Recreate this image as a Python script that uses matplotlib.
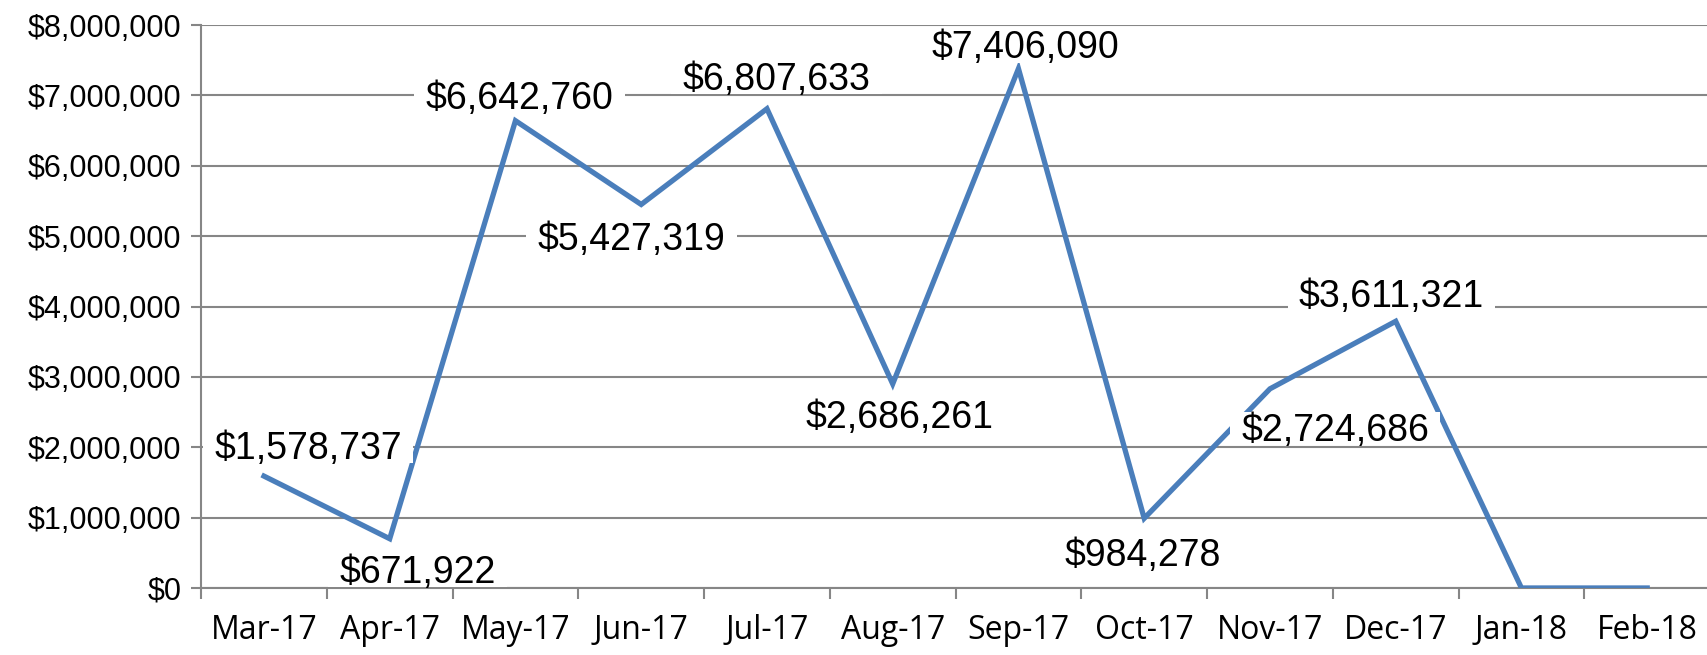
import matplotlib
matplotlib.use("Agg")
import matplotlib.pyplot as plt
from matplotlib.path import Path
from matplotlib.ticker import FuncFormatter

# --- data ---
months = ["Mar-17", "Apr-17", "May-17", "Jun-17", "Jul-17", "Aug-17",
          "Sep-17", "Oct-17", "Nov-17", "Dec-17", "Jan-18", "Feb-18"]
revenue = [1.59e6, 0.70e6, 6.64e6, 5.45e6, 6.81e6, 2.90e6,
           7.38e6, 0.99e6, 2.83e6, 3.79e6, 0.0, 0.0]
label_text = ["$1,578,737", "$671,922", "$6,642,760", "$5,427,319", "$6,807,633",
              "$2,686,261", "$7,406,090", "$984,278", "$2,724,686", "$3,611,321",
              None, None]
y_ticks = [0, 1e6, 2e6, 3e6, 4e6, 5e6, 6e6, 7e6, 8e6]

# label placement (offset from point, in points)
label_offsets = [(32, 22), (20, -22), (3, 18), (-7, -23), (7, 23),
                 (5, -22), (5, 17), (-1, -25), (47, -28), (-3, 20), None, None]

LINE = "#4a7ebb"
GRID = "#868686"


def tight_box(x0, y0, width, height, mutation_size):
    # white box: wide on the sides, trimmed below (Excel-style label background)
    px = 0.3 * mutation_size
    lo = y0 + 0.1 * mutation_size
    hi = y0 + height + 0.02 * mutation_size
    return Path([(x0 - px, lo), (x0 + width + px, lo), (x0 + width + px, hi),
                 (x0 - px, hi), (x0 - px, lo)], closed=True)


fig = plt.figure(figsize=(17.07, 6.55), dpi=100)
ax = fig.add_axes([0.1178, 0.1023, 0.884, 0.8595])

x = list(range(len(months)))
ax.plot(x, revenue, color=LINE, lw=3.8, solid_joinstyle="miter", zorder=3)

cap_half = 0.716 * 27 / 2
for i, txt in enumerate(label_text):
    if txt is None:
        continue
    dx, dy = label_offsets[i]
    ax.annotate(txt, (x[i], revenue[i]), xytext=(dx, dy - cap_half),
                textcoords="offset points", ha="center", va="baseline",
                fontsize=27, family="Liberation Sans", zorder=5,
                bbox=dict(boxstyle=tight_box, fc="white", ec="none"))

ax.set_xlim(-0.5, len(months) - 0.5)
ax.set_ylim(0, 8e6)
ax.set_yticks(y_ticks)
ax.yaxis.set_major_formatter(FuncFormatter(lambda v, p: f"${v:,.0f}"))
ax.set_xticks([i - 0.5 for i in range(len(months) + 1)])
ax.set_xticks(x, minor=True)
ax.set_xticklabels([])
ax.set_xticklabels(months, minor=True)
ax.tick_params(axis="x", which="major", length=8, width=1.5, color=GRID, direction="out")
ax.tick_params(axis="x", which="minor", length=0, pad=19, labelsize=23)
ax.tick_params(axis="y", length=7, width=1.5, color=GRID, pad=7, labelsize=22)
for t in ax.get_xticklabels(minor=True):
    t.set_family("Open Sans")
for t in ax.get_yticklabels():
    t.set_family("Liberation Sans")

ax.grid(axis="y", color=GRID, lw=1.5)
ax.set_axisbelow(True)
for s in ["top", "right"]:
    ax.spines[s].set_visible(False)
for s in ["left", "bottom"]:
    ax.spines[s].set_color(GRID)
    ax.spines[s].set_linewidth(1.5)

fig.savefig("out.png", dpi=100)
